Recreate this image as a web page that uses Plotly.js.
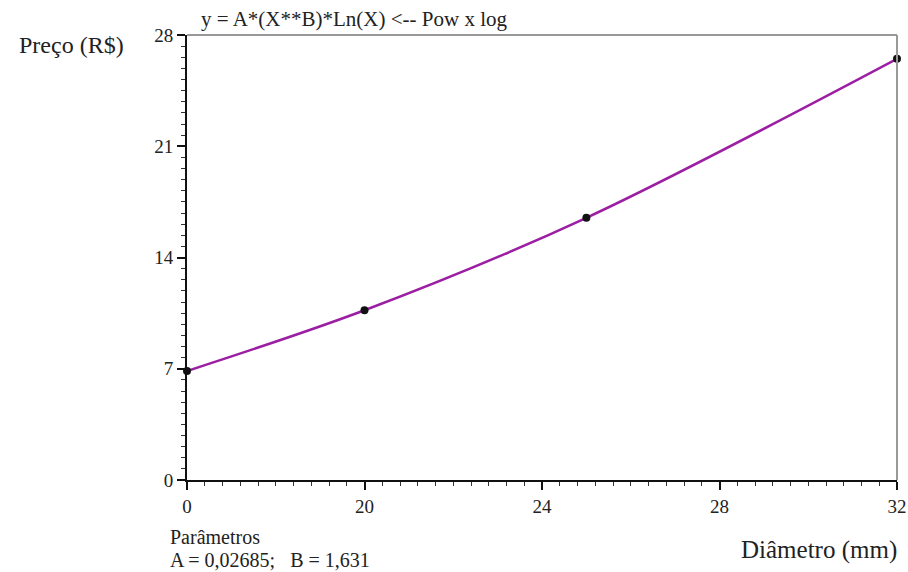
<!DOCTYPE html>
<html>
<head>
<meta charset="utf-8">
<script src="https://cdn.plot.ly/plotly-3.0.1.min.js"></script>
<style>html,body{margin:0;padding:0;background:#fff;}#chart{width:908px;height:572px;}</style>
</head>
<body>
<div id="chart"></div>
<script>
// Data
const diameter = [16, 20, 25, 32];
const price = [6.86, 10.68, 16.5, 26.5];
const xTickVals = [16, 20, 24, 28, 32];
const xTickText = ["0", "20", "24", "28", "32"];
const yTickVals = [0, 7, 14, 21, 28];
const titleText = "y = A*(X**B)*Ln(X) <-- Pow x log";
const paramsTitle = "Parâmetros";
const paramsValues = "A = 0,02685;   B = 1,631";

const font = "Liberation Serif, Times New Roman, serif";

const traces = [
  {
    x: diameter, y: price, type: "scatter", mode: "lines",
    line: {color: "#9c1ea3", width: 2.5, shape: "spline", smoothing: 0.9},
    hoverinfo: "skip", showlegend: false, cliponaxis: false
  },
  {
    x: diameter, y: price, type: "scatter", mode: "markers",
    marker: {color: "#111", size: 8},
    showlegend: false, cliponaxis: false
  }
];

const layout = {
  width: 908, height: 572,
  margin: {l: 187, r: 11, t: 35, b: 92},
  paper_bgcolor: "#fff", plot_bgcolor: "#fff",
  font: {family: font, size: 19, color: "#222"},
  showlegend: false,
  xaxis: {
    range: [16, 32], tickvals: xTickVals, ticktext: xTickText,
    showgrid: false, zeroline: false,
    showline: true, linecolor: "#111", linewidth: 2,
    ticks: "outside", ticklen: 8, tickwidth: 2, tickcolor: "#111",
    minor: {dtick: 0.4, ticks: "outside", ticklen: 4, tickwidth: 1, tickcolor: "#333", showgrid: false},
    tickfont: {family: font, size: 19, color: "#222"}
  },
  yaxis: {
    range: [0, 28], tickvals: yTickVals,
    showgrid: false, zeroline: false,
    showline: true, linecolor: "#111", linewidth: 2,
    ticks: "outside", ticklen: 8, tickwidth: 2, tickcolor: "#111",
    minor: {dtick: 0.7, ticks: "outside", ticklen: 4, tickwidth: 1, tickcolor: "#333", showgrid: false},
    tickfont: {family: font, size: 19, color: "#222"}
  },
  shapes: [
    {type: "line", xref: "paper", yref: "paper", x0: 0, x1: 1, y0: 1, y1: 1, line: {color: "#999", width: 2}},
    {type: "line", xref: "paper", yref: "paper", x0: 1, x1: 1, y0: 0, y1: 1, line: {color: "#999", width: 2}}
  ],
  annotations: [
    {text: titleText, xref: "paper", yref: "paper", x: 0, y: 1, xanchor: "left", yanchor: "bottom",
     xshift: 12, yshift: 2, showarrow: false, font: {family: font, size: 21, color: "#222"}},
    {text: "Preço (R$)", xref: "paper", yref: "paper", x: 0, y: 1, xanchor: "left", yanchor: "middle",
     xshift: -170, yshift: -10, showarrow: false, font: {family: font, size: 24, color: "#222"}},
    {text: "Diâmetro (mm)", xref: "paper", yref: "paper", x: 1, y: 0, xanchor: "right", yanchor: "middle",
     xshift: 2, yshift: -70, showarrow: false, font: {family: font, size: 25, color: "#222"}},
    {text: paramsTitle, xref: "paper", yref: "paper", x: 0, y: 0, xanchor: "left", yanchor: "middle",
     xshift: -19, yshift: -57, showarrow: false, font: {family: font, size: 20, color: "#222"}},
    {text: paramsValues, xref: "paper", yref: "paper", x: 0, y: 0, xanchor: "left", yanchor: "middle",
     xshift: -19, yshift: -80, showarrow: false, font: {family: font, size: 20, color: "#222"}}
  ]
};

Plotly.newPlot("chart", traces, layout, {displayModeBar: false, staticPlot: true});
</script>
</body>
</html>
